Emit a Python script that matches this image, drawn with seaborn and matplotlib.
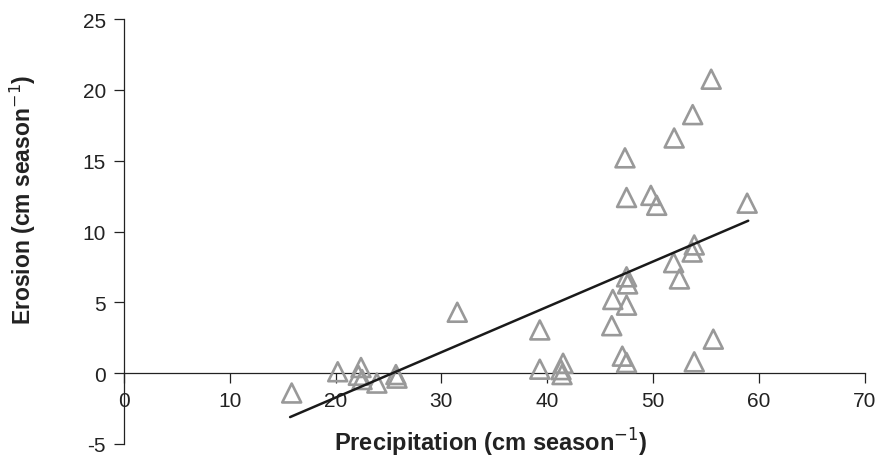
import matplotlib
matplotlib.use("Agg")
import matplotlib.pyplot as plt
import seaborn as sns
import pandas as pd

# Data
precip = [15.85, 20.2, 22.4, 22.15, 22.5, 23.9, 25.7, 25.8,
          31.5, 39.3, 39.3, 41.5, 41.3, 41.4,
          46.2, 47.5, 46.1, 47.1, 47.5, 47.5, 47.6, 47.35, 47.5,
          49.8, 50.35, 52.0, 53.75, 55.5, 58.9, 53.9, 53.7, 51.95, 52.5, 55.7, 53.9]
erosion = [-1.4, 0.1, 0.4, -0.15, -0.45, -0.7, -0.1, -0.35,
           4.3, 3.05, 0.28, 0.7, 0.25, -0.1,
           5.2, 4.8, 3.35, 1.2, 0.75, 6.8, 6.3, 15.2, 12.4,
           12.55, 11.85, 16.6, 18.25, 20.75, 12.0, 9.05, 8.55, 7.8, 6.65, 2.4, 0.8]
trend_x = [15.7, 59.0]
trend_y = [-3.1, 10.76]
x_ticks = [0, 10, 20, 30, 40, 50, 60, 70]
y_ticks = [-5, 0, 5, 10, 15, 20, 25]

sns.set_style("ticks")
plt.rcParams['font.family'] = ['Liberation Sans', 'DejaVu Sans']

df = pd.DataFrame({"precip": precip, "erosion": erosion})
tr = pd.DataFrame({"x": trend_x, "y": trend_y})

fig = plt.figure(figsize=(8.79, 4.60), dpi=100)
ax = fig.add_axes([124 / 879, 15 / 460, 740.6 / 879, 425 / 460])

sns.scatterplot(data=df, x="precip", y="erosion", ax=ax, marker="^", s=185,
                facecolor="none", edgecolor="#999999", linewidth=1.9, zorder=3)
sns.lineplot(data=tr, x="x", y="y", ax=ax, color="#1a1a1a", linewidth=1.8, zorder=4)

ax.set_xlim(0, 70)
ax.set_ylim(-5, 25)
ax.set_xticks(x_ticks)
ax.set_yticks(y_ticks)
ax.set_xticklabels([str(v) for v in x_ticks])
ax.set_yticklabels([str(v) for v in y_ticks])

ax.spines['left'].set_position(('data', 0))
ax.spines['bottom'].set_position(('data', 0))
ax.spines['top'].set_visible(False)
ax.spines['right'].set_visible(False)
for s in ('left', 'bottom'):
    ax.spines[s].set_color('#222222')
    ax.spines[s].set_linewidth(0.9)

ax.tick_params(axis='both', direction='out', length=7, width=0.9, color='#222222',
               labelsize=15, labelcolor='#222222', pad=6)

ax.set_xlabel("Precipitation (cm season$^{-1}$)", fontsize=17, fontweight='bold', color='#222222')
ax.set_ylabel("Erosion (cm season$^{-1}$)", fontsize=16.5, fontweight='bold', color='#222222')
ax.xaxis.set_label_coords(0.495, 0.042)
ax.yaxis.set_label_coords(-0.116, 0.576)

fig.savefig("out.png", dpi=100)
